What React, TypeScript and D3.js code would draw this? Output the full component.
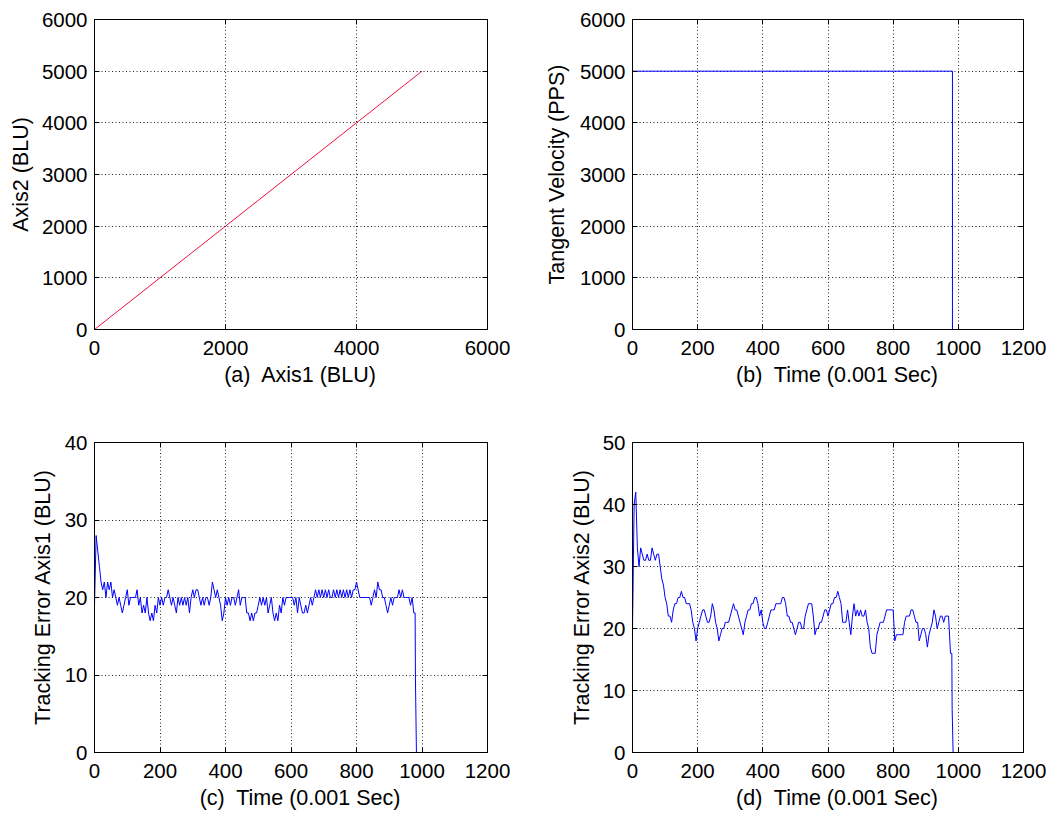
import * as d3 from "d3";
import React from "react";

// (a) XY contour, Axis1 vs Axis2 position
const axis1Pos = [0, 5000];
const axis2Pos = [0, 5000];

// (b) tangent velocity
const velTime = [0, 982, 982];
const velValue = [5000, 5000, 0];

// (c), (d) tracking errors, read every 5 ms off the plot
const SAMPLE_MS = 5;
const errAxis1 = [
  19, 28, 26, 24, 22, 21, 22, 20, 22, 21, // 0
  22, 20, 21, 20, 19, 20, 19, 18, 19, 20, // 50
  21, 19, 20, 20, 20, 20, 21, 19, 20, 18, // 100
  19, 18, 20, 18, 17, 18, 17, 19, 18, 20, // 150
  19, 20, 19, 20, 20, 21, 20, 19, 20, 19, // 200
  18, 20, 19, 20, 19, 20, 19, 20, 18, 20, // 250
  21, 20, 21, 21, 20, 19, 20, 19, 20, 20, // 300
  19, 20, 22, 21, 20, 21, 20, 19, 17, 18, // 350
  20, 19, 20, 19, 20, 20, 19, 20, 21, 19, // 400
  20, 20, 20, 18, 18, 17, 18, 17, 18, 18, // 450
  19, 20, 19, 20, 19, 20, 18, 19, 20, 18, // 500
  17, 18, 17, 19, 18, 20, 19, 20, 20, 20, // 550
  20, 20, 19, 20, 18, 20, 19, 18, 18, 19, // 600
  18, 19, 20, 19, 20, 21, 20, 21, 20, 21, // 650
  20, 21, 20, 21, 20, 20, 21, 20, 21, 20, // 700
  21, 20, 21, 20, 21, 20, 21, 20, 21, 21, // 750
  22, 21, 20, 20, 20, 20, 20, 20, 20, 19, // 800
  20, 21, 20, 22, 21, 21, 20, 20, 19, 18, // 850
  19, 20, 19, 20, 20, 20, 21, 20, 21, 20, // 900
  20, 20, 20, 19, 20, 18,                 // 950
];
const errAxis1TailT = [979, 980, 983];
const errAxis1TailV = [18, 9.5, 0];

const errAxis2 = [
  20, 40, 42, 33, 30, 33, 32, 31, 31, 32, // 0
  31, 31, 33, 32, 31, 32, 32, 30, 28, 27, // 50
  25, 24, 22, 22, 21, 23, 24, 24, 25, 25, // 100
  26, 25, 25, 24, 24, 24, 23, 21, 20, 18, // 150
  20, 21, 22, 23, 23, 22, 21, 21, 22, 24, // 200
  23, 21, 20, 18, 19, 20, 20, 21, 21, 21, // 250
  22, 23, 24, 23, 23, 22, 21, 20, 19, 21, // 300
  22, 23, 23, 24, 24, 25, 25, 24, 22, 23, // 350
  21, 20, 20, 21, 22, 23, 23, 23, 24, 24, // 400
  24, 24, 25, 25, 24, 22, 22, 21, 21, 20, // 450
  19, 20, 21, 21, 20, 20, 22, 23, 24, 24, // 500
  24, 22, 19, 20, 20, 21, 21, 22, 23, 23, // 550
  22, 23, 24, 24, 25, 25, 26, 25, 24, 21, // 600
  21, 21, 23, 21, 19, 22, 24, 22, 23, 22, // 650
  23, 22, 22, 23, 21, 20, 17, 16, 16, 16, // 700
  19, 20, 21, 21, 21, 22, 23, 23, 23, 23, // 750
  23, 18, 19, 19, 19, 19, 19, 21, 22, 22, // 800
  22, 23, 23, 22, 21, 21, 18, 19, 20, 20, // 850
  19, 17, 19, 20, 21, 23, 22, 20, 21, 22, // 900
  22, 21, 22, 22, 22,                     // 950
];
const errAxis2TailT = [976, 980, 981, 984];
const errAxis2TailV = [16, 16, 7, 0];

// tick labels
const posTicks = [0, 2000, 4000, 6000];
const pos6kTicks = [0, 1000, 2000, 3000, 4000, 5000, 6000];
const timeTicks = [0, 200, 400, 600, 800, 1000, 1200];
const err1Ticks = [0, 10, 20, 30, 40];
const err2Ticks = [0, 10, 20, 30, 40, 50];

const FONT = "'Liberation Sans', Arial, Helvetica, sans-serif";

function sampled(values: number[], tailT: number[], tailV: number[]): [number, number][] {
  const pts: [number, number][] = values.map((v, i) => [i * SAMPLE_MS, v]);
  tailT.forEach((t, i) => pts.push([t, tailV[i]]));
  return pts;
}

type PanelProps = {
  left: number; right: number; top: number; bottom: number;
  xDomain: [number, number]; yDomain: [number, number];
  xTicks: number[]; yTicks: number[];
  xLabel: string; yLabel: string; yLabelX: number;
  points: [number, number][]; color: string;
};

function Panel(p: PanelProps) {
  const x = d3.scaleLinear().domain(p.xDomain).range([p.left + 0.5, p.right + 0.5]);
  const y = d3.scaleLinear().domain(p.yDomain).range([p.bottom + 0.5, p.top + 0.5]);
  const line = d3.line<[number, number]>()
    .x(d => x(d[0]))
    .y(d => y(d[1]));
  const L = p.left + 0.5, R = p.right + 0.5, T = p.top + 0.5, B = p.bottom + 0.5;
  const tk = 5;
  const px = (v: number) => Math.round(x(v) - 0.5) + 0.5;
  const py = (v: number) => Math.round(y(v) - 0.5) + 0.5;

  return (
    <g>
      {/* grid */}
      {p.xTicks.slice(1, -1).map(t => (
        <line key={"gx" + t} x1={px(t)} x2={px(t)} y1={T} y2={B}
          stroke="#222" strokeDasharray="1,2.5" />
      ))}
      {p.yTicks.slice(1, -1).map(t => (
        <line key={"gy" + t} x1={L} x2={R} y1={py(t)} y2={py(t)}
          stroke="#222" strokeDasharray="1,2.5" />
      ))}

      <path d={line(p.points) || ""} fill="none" stroke={p.color} strokeWidth={1} />

      {/* box and inward ticks */}
      <rect x={L} y={T} width={R - L} height={B - T} fill="none" stroke="#000" />
      {p.xTicks.map(t => (
        <g key={"tx" + t}>
          <line x1={px(t)} x2={px(t)} y1={B} y2={B - tk} stroke="#000" />
          <line x1={px(t)} x2={px(t)} y1={T} y2={T + tk} stroke="#000" />
          <text x={x(t)} y={B + 25.5} textAnchor="middle" fontSize={20.5} fontFamily={FONT}>{t}</text>
        </g>
      ))}
      {p.yTicks.map(t => (
        <g key={"ty" + t}>
          <line x1={L} x2={L + tk} y1={py(t)} y2={py(t)} stroke="#000" />
          <line x1={R} x2={R - tk} y1={py(t)} y2={py(t)} stroke="#000" />
          <text x={L - 7} y={y(t)} dy="0.36em" textAnchor="end" fontSize={20.5} fontFamily={FONT}>{t}</text>
        </g>
      ))}

      <text x={(L + R) / 2 + 9} y={B + 52} textAnchor="middle" fontSize={21.5} fontFamily={FONT}
        style={{ whiteSpace: "pre" }}>{p.xLabel}</text>
      <text transform={`translate(${p.yLabelX},${(T + B) / 2}) rotate(-90)`} textAnchor="middle"
        fontSize={21.5} fontFamily={FONT}>{p.yLabel}</text>
    </g>
  );
}

export default function App() {
  const xy: [number, number][] = axis1Pos.map((v, i) => [v, axis2Pos[i]]);
  const vel: [number, number][] = velTime.map((t, i) => [t, velValue[i]]);
  const e1 = sampled(errAxis1, errAxis1TailT, errAxis1TailV);
  const e2 = sampled(errAxis2, errAxis2TailT, errAxis2TailV);

  return (
    <svg width={1056} height={815} style={{ position: "absolute", left: 0, top: 0, background: "#fff" }}>
      <Panel left={94} right={487} top={19} bottom={329}
        xDomain={[0, 6000]} yDomain={[0, 6000]} xTicks={posTicks} yTicks={pos6kTicks}
        xLabel="(a)  Axis1 (BLU)" yLabel="Axis2 (BLU)" yLabelX={28}
        points={xy} color="#f0103c" />
      <Panel left={632} right={1023} top={19} bottom={329}
        xDomain={[0, 1200]} yDomain={[0, 6000]} xTicks={timeTicks} yTicks={pos6kTicks}
        xLabel="(b)  Time (0.001 Sec)" yLabel="Tangent Velocity (PPS)" yLabelX={564}
        points={vel} color="#0000ff" />
      <Panel left={94} right={487} top={442} bottom={752}
        xDomain={[0, 1200]} yDomain={[0, 40]} xTicks={timeTicks} yTicks={err1Ticks}
        xLabel="(c)  Time (0.001 Sec)" yLabel="Tracking Error Axis1 (BLU)" yLabelX={50}
        points={e1} color="#0000ff" />
      <Panel left={632} right={1023} top={442} bottom={752}
        xDomain={[0, 1200]} yDomain={[0, 50]} xTicks={timeTicks} yTicks={err2Ticks}
        xLabel="(d)  Time (0.001 Sec)" yLabel="Tracking Error Axis2 (BLU)" yLabelX={589}
        points={e2} color="#0000ff" />
    </svg>
  );
}
